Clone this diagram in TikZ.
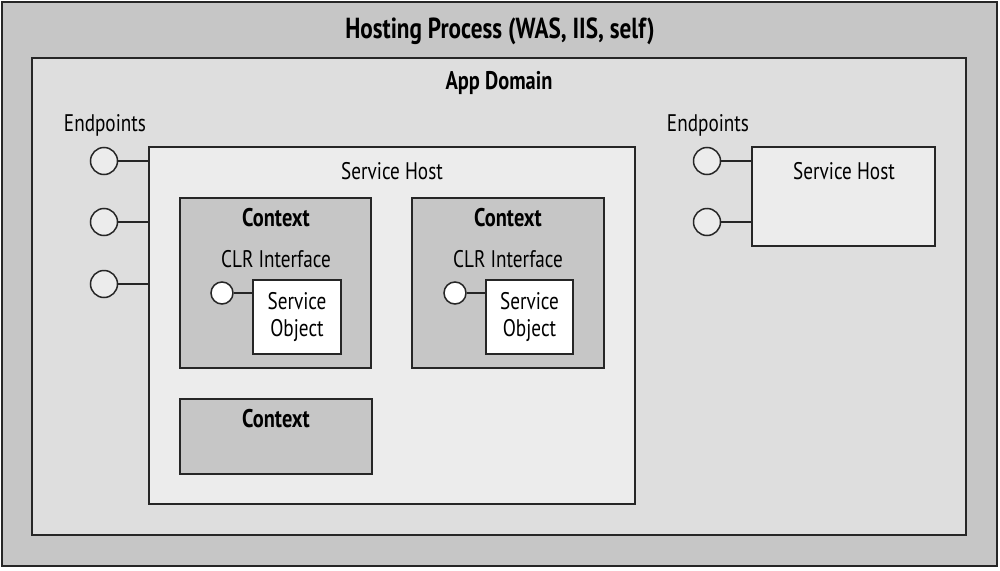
\documentclass[tikz,border=0pt]{standalone}
\usepackage{fontspec}
\setmainfont{PT Sans}[FakeStretch=0.8]
\begin{document}
\begin{tikzpicture}[x=1pt,y=-1pt,
  box/.style={draw=black!85,line width=1.8pt,inner sep=0pt,rectangle},
  ep/.style={circle,draw=black!85,line width=1.5pt,fill=epfill,minimum size=27pt,inner sep=0pt},
  epsmall/.style={circle,draw=black!85,line width=1.5pt,fill=white,minimum size=22pt,inner sep=0pt},
  wire/.style={draw=black!85,line width=1.5pt},
  lbl/.style={font=\fontsize{24}{26}\selectfont,inner sep=0pt,anchor=base},
  blbl/.style={font=\fontsize{25.5}{27}\selectfont\bfseries,inner sep=0pt,anchor=base},
  tlbl/.style={font=\fontsize{29}{31}\selectfont\bfseries,inner sep=0pt,anchor=base}]
\definecolor{outerfill}{HTML}{C6C6C6}
\definecolor{appfill}{HTML}{DEDEDE}
\definecolor{hostfill}{HTML}{ECECEC}
\definecolor{ctxfill}{HTML}{C6C6C6}
\definecolor{epfill}{HTML}{ECECEC}
\useasboundingbox (0,0) rectangle (1000,570);
% outer
\node[box,fill=outerfill,minimum width=995pt,minimum height=564pt] (outer) at (499.5,284) {};
\node[tlbl] (ttl) at (500,38) {Hosting Process (WAS, IIS, self)};
% app domain
\node[box,fill=appfill,minimum width=934pt,minimum height=477pt] (app) at (499,296.5) {};
\node[blbl] (apptxt) at (499,89) {App Domain};
% left service host
\node[box,fill=hostfill,minimum width=486pt,minimum height=357pt] (sh1) at (392,325.5) {};
\node[lbl] (sh1txt) at (392,179) {Service Host};
\node[lbl] (ep1txt) at (105,131) {Endpoints};
\node[ep] (e1) at (104,161) {};
\node[ep] (e2) at (104,222) {};
\node[ep] (e3) at (104,284) {};
\draw[wire] (e1) -- (e1 -| sh1.west);
\draw[wire] (e2) -- (e2 -| sh1.west);
\draw[wire] (e3) -- (e3 -| sh1.west);
% contexts
\node[box,fill=ctxfill,minimum width=191pt,minimum height=170pt] (c1) at (275.5,283) {};
\node[blbl] (c1txt) at (276,226) {Context};
\node[lbl] (c1clr) at (276,267) {CLR Interface};
\node[box,fill=white,minimum width=88pt,minimum height=74pt] (so1) at (297,317) {};
\node[lbl,anchor=center,align=center,font=\fontsize{24}{27}\selectfont] (so1txt) at (297,317) {Service\\Object};
\node[epsmall] (i1) at (222,293) {};
\draw[wire] (i1) -- (i1 -| so1.west);

\node[box,fill=ctxfill,minimum width=192pt,minimum height=170pt] (c2) at (508,283) {};
\node[blbl] (c2txt) at (508,226) {Context};
\node[lbl] (c2clr) at (508,267) {CLR Interface};
\node[box,fill=white,minimum width=87pt,minimum height=74pt] (so2) at (529.5,317) {};
\node[lbl,anchor=center,align=center,font=\fontsize{24}{27}\selectfont] (so2txt) at (529.5,317) {Service\\Object};
\node[epsmall] (i2) at (455,293) {};
\draw[wire] (i2) -- (i2 -| so2.west);

\node[box,fill=ctxfill,minimum width=192pt,minimum height=75pt] (c3) at (276,436.5) {};
\node[blbl] (c3txt) at (276,427) {Context};
% right service host
\node[box,fill=hostfill,minimum width=183pt,minimum height=99pt] (sh2) at (843.5,196.5) {};
\node[lbl] (sh2txt) at (844,179) {Service Host};
\node[lbl] (ep2txt) at (708,131) {Endpoints};
\node[ep] (e4) at (707,161) {};
\node[ep] (e5) at (707,222) {};
\draw[wire] (e4) -- (e4 -| sh2.west);
\draw[wire] (e5) -- (e5 -| sh2.west);
\end{tikzpicture}
\end{document}
